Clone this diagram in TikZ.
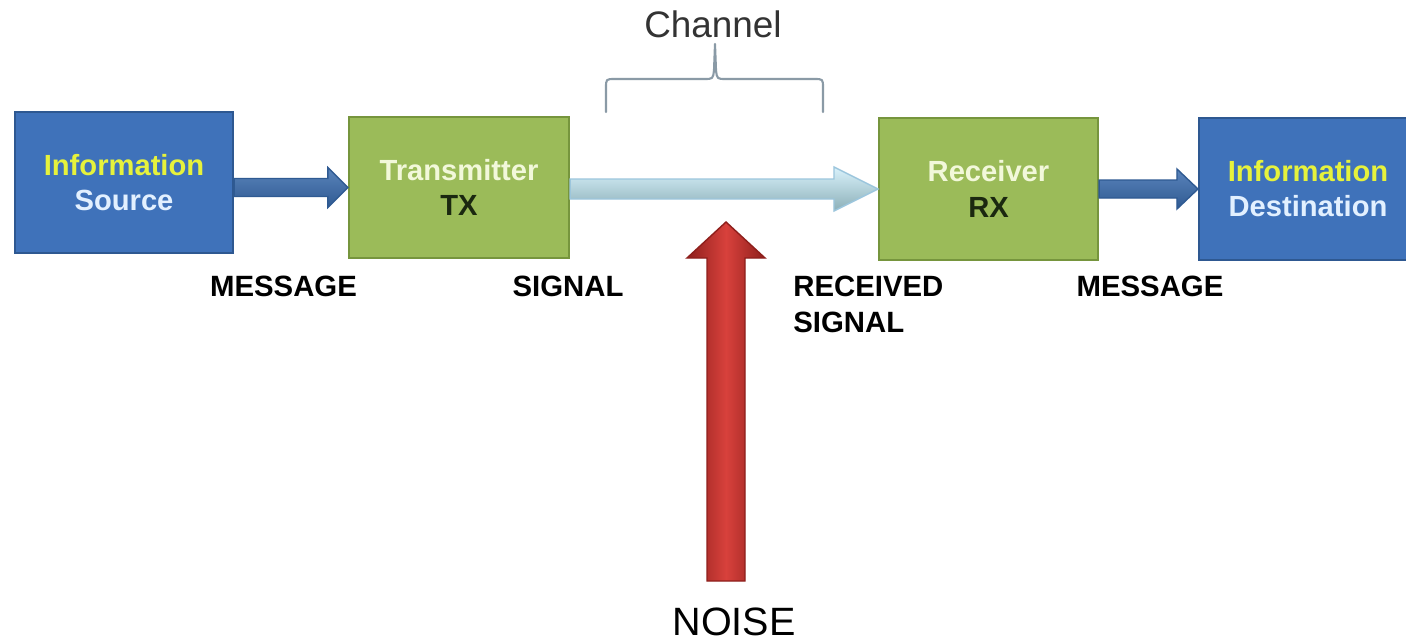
\documentclass[tikz,border=0pt]{standalone}
\usepackage{fontspec}
\setmainfont{Liberation Sans}
\usetikzlibrary{calc}

\definecolor{boxblue}{HTML}{3F72BA}
\definecolor{boxblueline}{HTML}{2E5891}
\definecolor{boxgreen}{HTML}{9BBB59}
\definecolor{boxgreenline}{HTML}{76953D}
\definecolor{infoyellow}{HTML}{E6F23C}
\definecolor{paleblue}{HTML}{E2F0FF}
\definecolor{palegreen}{HTML}{F2F8DA}
\definecolor{darkink}{HTML}{1B2810}
\definecolor{arrowblue}{HTML}{3D6EAF}
\definecolor{arrowbluedark}{HTML}{2F5A92}
\definecolor{chanfill}{HTML}{C9ECFA}
\definecolor{chanline}{HTML}{9CC6DD}
\definecolor{noisered}{HTML}{D8413C}
\definecolor{noisedark}{HTML}{8E1F1C}
\definecolor{bracegray}{HTML}{8A9AA6}

% horizontal block arrow: style, start, tip, half shaft, half head, head length
\newcommand\hblockarrow[6]{%
  \path[#1] ($(#2)+(0,-#4)$) -- ($(#3)+(-#6,-#4)$) -- ($(#3)+(-#6,-#5)$) -- (#3)
    -- ($(#3)+(-#6,#5)$) -- ($(#3)+(-#6,#4)$) -- ($(#2)+(0,#4)$) -- cycle;}
% upward block arrow: style, base, tip, half shaft, half head, head length
\newcommand\vblockarrow[6]{%
  \path[#1] ($(#2)+(-#4,0)$) -- ($(#3)+(-#4,#6)$) -- ($(#3)+(-#5,#6)$) -- (#3)
    -- ($(#3)+(#5,#6)$) -- ($(#3)+(#4,#6)$) -- ($(#2)+(#4,0)$) -- cycle;}

\tikzset{
  block/.style={draw, line width=1.2pt, minimum width=218*0.02cm,
    minimum height=141*0.02cm, align=center, inner sep=0pt,
    font=\fontsize{16.6}{20}\selectfont\bfseries},
  endblock/.style={block, fill=boxblue, draw=boxblueline},
  midblock/.style={block, fill=boxgreen, draw=boxgreenline},
  tag/.style={font=\fontsize{16.7}{20.4}\selectfont\bfseries, inner sep=0pt, align=left},
  msgarrow/.style={top color=arrowblue!85!white, bottom color=arrowbluedark,
    draw=arrowbluedark, line width=0.8pt, line join=miter},
  chanarrow/.style={top color=chanfill!70!white, bottom color=chanfill!90!cyan!70!black!90,
    draw=chanline, line width=0.8pt},
  noisearrow/.style={left color=noisedark, right color=noisedark, middle color=noisered,
    draw=noisedark, line width=0.8pt},
  bracket/.style={draw=bracegray, line width=1.2pt, line cap=round, line join=round}
}

\begin{document}
\begin{tikzpicture}[x=0.02cm, y=-0.02cm]
  \useasboundingbox[fill=white] (0,0) rectangle (1406,642);

  % blocks of the chain
  \node[endblock] (src) at (124,182.5)
    {\textcolor{infoyellow}{Information}\\\textcolor{paleblue}{Source}};
  \node[midblock, minimum width=220*0.02cm] (tx) at (459,187.5)
    {\textcolor{palegreen}{Transmitter}\\\textcolor{darkink}{TX}};
  \node[midblock, minimum width=219*0.02cm, minimum height=142*0.02cm] (rx) at (988.5,189)
    {\textcolor{palegreen}{Receiver}\\\textcolor{darkink}{RX}};
  \node[endblock, minimum height=142*0.02cm] (dst) at (1308,189)
    {\textcolor{infoyellow}{Information}\\\textcolor{paleblue}{Destination}};

  % connectors between the blocks
  \coordinate (s1) at (src.east |- tx.west);
  \hblockarrow{msgarrow}{s1}{tx.west}{9}{20}{20}
  \coordinate (s2) at (tx.east |- rx.west);
  \hblockarrow{chanarrow}{s2}{rx.west}{10}{22}{44}
  \hblockarrow{msgarrow}{rx.east}{dst.west}{9}{20}{21}

  % signal labels
  \node[tag, anchor=base] (m1) at (283.5,296) {MESSAGE};
  \node[tag, anchor=base] (sg) at (568,296) {SIGNAL};
  \node[tag, anchor=base west] (rs) at (793,332) {RECEIVED\\SIGNAL};
  \node[tag, anchor=base] (m2) at (1150,296) {MESSAGE};

  % channel bracket
  \node[font=\fontsize{21}{24}\selectfont, text=black!80, anchor=base] (chan) at (713,38) {Channel};
  \draw[bracket] (606,112) -- (606,88) .. controls (606,79) .. (615,79) -- (704,79)
    .. controls (713,79) .. (714,70) -- (715,44)
    (715,44) -- (716,70) .. controls (717,79) .. (726,79) -- (814,79)
    .. controls (823,79) .. (823,88) -- (823,112);

  % noise entering the channel
  \node[font=\fontsize{22.5}{26}\selectfont, anchor=base] (noise) at (734,635) {NOISE};
  \coordinate (nbase) at (726,581);
  \coordinate (ntip) at (726,222);
  \vblockarrow{noisearrow}{nbase}{ntip}{19}{39}{36}
\end{tikzpicture}
\end{document}
